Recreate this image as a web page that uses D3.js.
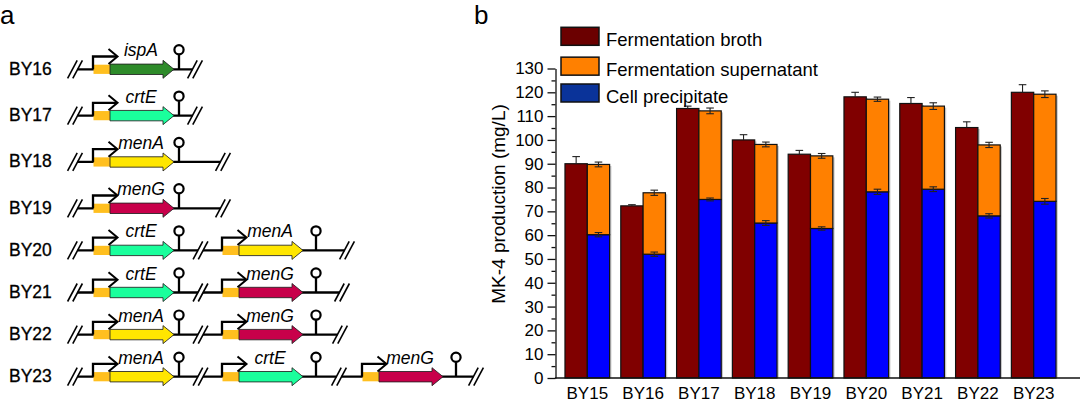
<!DOCTYPE html>
<html><head><meta charset="utf-8">
<script src="https://cdn.jsdelivr.net/npm/d3@7"></script>
<style>
body{margin:0;background:#fff}
svg{display:block}
text{font-family:"Liberation Sans",Arial,Helvetica,sans-serif;fill:#000}
</style>
</head><body>
<svg id="c" width="1080" height="403"></svg>
<script>
// ---------- Panel b data ----------
const categories = ["BY15","BY16","BY17","BY18","BY19","BY20","BY21","BY22","BY23"];
const broth          = [90.0, 72.3, 113.2, 100.0, 94.0, 118.1, 115.3, 105.2, 120.0];
const brothErr       = [3.0, 0.5, 1.0, 2.2, 1.6, 1.9, 2.5, 2.4, 3.2];
const supernatant    = [29.5, 25.8, 37.2, 33.0, 30.5, 38.9, 34.9, 29.8, 45.0];
const supernatantErr = [1.0, 1.1, 1.2, 1.0, 1.0, 0.9, 1.4, 1.1, 1.4];
const cell           = [60.2, 52.0, 75.0, 65.1, 62.8, 78.2, 79.3, 68.1, 74.2];
const cellErr        = [0.9, 0.9, 0.6, 1.0, 0.7, 1.1, 1.0, 0.9, 1.2];
const yMajorTicks = [0,10,20,30,40,50,60,70,80,90,100,110,120,130];
const yMinorTicks = [5,15,25,35,45,55,65,75,85,95,105,115,125];
const seriesNames = ["Fermentation broth","Fermentation supernatant","Cell precipitate"];
const yTitle = "MK-4 production (mg/L)";

// ---------- Panel a data ----------
const strains = ["BY16","BY17","BY18","BY19","BY20","BY21","BY22","BY23"];
const constructs = [
  ["ispA"], ["crtE"], ["menA"], ["menG"],
  ["crtE","menA"], ["crtE","menG"], ["menA","menG"], ["menA","crtE","menG"]
];

// ---------- styles ----------
const barColors = {broth:"#800000", supernatant:"#ff8000", cell:"#0000ff"};
const legendColors = ["#6b0000","#ff8000","#0a3399"];
const geneColors = {ispA:"#2e8b2a", crtE:"#1aff9c", menA:"#ffe600", menG:"#c8004a"};
const rbsColor = "#ffbf1f";

const svg = d3.select("#c");
svg.append("rect").attr("width",1080).attr("height",403).attr("fill","#fff");

// panel letters
svg.append("text").attr("x",0).attr("y",23.5).attr("font-size",26).text("a");
svg.append("text").attr("x",474).attr("y",23.5).attr("font-size",26).text("b");

// =================== Panel b ===================
const y = d3.scaleLinear().domain([0,130]).range([378,68.5]);
const x = d3.scaleBand().domain(categories).range([559.4,1061.6]).paddingInner(0.2).paddingOuter(0.1);
const xs = d3.scaleBand().domain(["broth","stack"]).range([0,x.bandwidth()]);
const axisX = 555.5;

const gB = svg.append("g");

// y axis
const yAx = gB.append("g").attr("transform",`translate(${axisX},0)`)
  .call(d3.axisLeft(y).tickValues(yMajorTicks).tickSize(8).tickSizeOuter(0).tickPadding(4).tickFormat(d3.format("d")));
yAx.selectAll("text").attr("font-size",17).attr("fill","#000").attr("font-family",'"Liberation Sans",Arial,sans-serif');
yAx.selectAll("line,path").attr("stroke","#111").attr("stroke-width",1.3);
const yAxMinor = gB.append("g").attr("transform",`translate(${axisX},0)`)
  .call(d3.axisLeft(y).tickValues(yMinorTicks).tickSize(4).tickSizeOuter(0).tickFormat(""));
yAxMinor.select("path").remove();
yAxMinor.selectAll("line").attr("stroke","#111").attr("stroke-width",1.3);

// axis title
gB.append("text")
  .attr("transform",`translate(505,204) rotate(-90)`)
  .attr("text-anchor","middle").attr("font-size",19).text(yTitle);

// stack data
const stackRows = categories.map((c,i)=>({cat:c, cell:cell[i], supernatant:supernatant[i]}));
const stacked = d3.stack().keys(["cell","supernatant"])(stackRows);

// shadows
const shadowG = gB.append("g").attr("fill","#c8c8c8");
categories.forEach((c,i)=>{
  shadowG.append("rect").attr("x",x(c)+xs("broth")+1.8).attr("y",y(broth[i])+1.5)
    .attr("width",xs.bandwidth()).attr("height",y(0)-y(broth[i])-1.5);
  const tot = cell[i]+supernatant[i];
  shadowG.append("rect").attr("x",x(c)+xs("stack")+1.8).attr("y",y(tot)+1.5)
    .attr("width",xs.bandwidth()).attr("height",y(0)-y(tot)-1.5);
});

// broth bars
gB.append("g").selectAll("rect").data(categories).join("rect")
  .attr("x",c=>x(c)+xs("broth")).attr("y",(c,i)=>y(broth[i]))
  .attr("width",xs.bandwidth()).attr("height",(c,i)=>y(0)-y(broth[i]))
  .attr("fill",barColors.broth).attr("stroke","#111").attr("stroke-width",1.2);

// stacked bars
stacked.forEach(layer=>{
  gB.append("g").selectAll("rect").data(layer).join("rect")
    .attr("x",d=>x(d.data.cat)+xs("stack")).attr("y",d=>y(d[1]))
    .attr("width",xs.bandwidth()).attr("height",d=>y(d[0])-y(d[1]))
    .attr("fill",barColors[layer.key]).attr("stroke","#111").attr("stroke-width",1.2);
});

// error bars
const eg = gB.append("g").attr("stroke","#222").attr("stroke-width",1.1).attr("fill","none");
function errBar(cx, v, e, both){
  const top = y(v+e), bot = both ? y(v-e) : y(v);
  eg.append("line").attr("x1",cx).attr("x2",cx).attr("y1",top).attr("y2",bot);
  eg.append("line").attr("x1",cx-3.8).attr("x2",cx+3.8).attr("y1",top).attr("y2",top);
  if(both) eg.append("line").attr("x1",cx-3.8).attr("x2",cx+3.8).attr("y1",bot).attr("y2",bot);
}
categories.forEach((c,i)=>{
  const cb = x(c)+xs("broth")+xs.bandwidth()/2;
  const cs = x(c)+xs("stack")+xs.bandwidth()/2;
  errBar(cb, broth[i], brothErr[i], false);
  errBar(cs, cell[i]+supernatant[i], supernatantErr[i], true);
  errBar(cs, cell[i], cellErr[i], true);
});

// x axis
gB.append("line").attr("x1",axisX-0.6).attr("x2",1080).attr("y1",y(0)).attr("y2",y(0))
  .attr("stroke","#111").attr("stroke-width",1.3);
const xAx = gB.append("g").attr("transform",`translate(0,${y(0)})`)
  .call(d3.axisBottom(x).tickSize(0).tickPadding(9));
xAx.select("path").remove();
xAx.selectAll("text").attr("font-size",17).attr("fill","#000").attr("font-family",'"Liberation Sans",Arial,sans-serif');

// legend
const legY = d3.scalePoint().domain(seriesNames).range([27.3,84]);
const lg = gB.append("g");
seriesNames.forEach((n,i)=>{
  lg.append("rect").attr("x",561).attr("y",legY(n)+(i===1?1.5:0))
    .attr("width",38).attr("height",18)
    .attr("fill",legendColors[i]).attr("stroke","#111").attr("stroke-width",1.5);
  lg.append("text").attr("x",606).attr("y",legY(n)+18.5+(i===1?1.5:0)).attr("font-size",18.5).text(n);
});

// =================== Panel a ===================
const yRow = d3.scaleLinear().domain([0,3,7]).range([69.3,208.3,376.7]);
const xSlot = d3.scaleLinear().domain([0,1,2]).range([93,222,362]);
const termOff = [86,94,94];
const tailGap = {BY16:16,BY17:16,BY18:44,BY19:44,BY20:31,BY21:26,BY22:24,BY23:20};

const gA = svg.append("g");
strains.forEach((s,i)=>{
  const yy = yRow(i);
  const genes = constructs[i];
  const g = gA.append("g");
  g.append("text").attr("x",9).attr("y",yy+5.5).attr("font-size",17.5)
    .attr("stroke","#000").attr("stroke-width",0.3).text(s);

  const slashes = [xSlot(0)-18];
  genes.forEach((gn,k)=>{ if(k>0) slashes.push((xSlot(k-1)+termOff[k-1]+xSlot(k))/2); });
  slashes.push(xSlot(genes.length-1)+termOff[genes.length-1]+tailGap[s]);

  // backbone
  for(let j=0;j<slashes.length-1;j++){
    g.append("line").attr("x1",slashes[j]+2.5).attr("x2",slashes[j+1]-2.5)
      .attr("y1",yy).attr("y2",yy).attr("stroke","#000").attr("stroke-width",2.3);
  }
  // slashes
  slashes.forEach(c=>{
    [-2.6,2.6].forEach(d=>{
      g.append("line").attr("x1",c+d-4.8).attr("y1",yy+9).attr("x2",c+d+4.8).attr("y2",yy-9)
        .attr("stroke","#000").attr("stroke-width",1.6);
    });
  });
  // cassettes
  genes.forEach((gn,k)=>{
    const p = xSlot(k);
    // RBS
    g.append("rect").attr("x",p+0.5).attr("y",yy-4.6).attr("width",16.5).attr("height",9.2).attr("fill",rbsColor);
    // gene arrow
    const path = d3.path();
    path.moveTo(p+17,yy-5.2); path.lineTo(p+70,yy-5.2); path.lineTo(p+70,yy-9);
    path.lineTo(p+81,yy); path.lineTo(p+70,yy+9); path.lineTo(p+70,yy+5.2);
    path.lineTo(p+17,yy+5.2); path.closePath();
    g.append("path").attr("d",path.toString()).attr("fill",geneColors[gn])
      .attr("stroke","#222").attr("stroke-opacity",0.85).attr("stroke-width",1);
    // promoter
    g.append("path").attr("d",`M${p},${yy} V${yy-12.8} H${p+23.5}`)
      .attr("fill","none").attr("stroke","#000").attr("stroke-width",2.3);
    g.append("path").attr("d",`M${p+15.5},${yy-12.8-7.5} L${p+24.5},${yy-12.8} L${p+15.5},${yy-12.8+7.5}`)
      .attr("fill","none").attr("stroke","#000").attr("stroke-width",2);
    // gene label
    g.append("text").attr("x",p+48).attr("y",yy-13).attr("text-anchor","middle")
      .attr("font-size",17.5).attr("font-style","italic").text(gn);
    // terminator
    const t = p+termOff[k];
    g.append("line").attr("x1",t).attr("x2",t).attr("y1",yy).attr("y2",yy-14.5)
      .attr("stroke","#000").attr("stroke-width",2.3);
    g.append("circle").attr("cx",t).attr("cy",yy-19.5).attr("r",4.6)
      .attr("fill","#fff").attr("stroke","#000").attr("stroke-width",2.2);
  });
});
</script>
</body></html>
